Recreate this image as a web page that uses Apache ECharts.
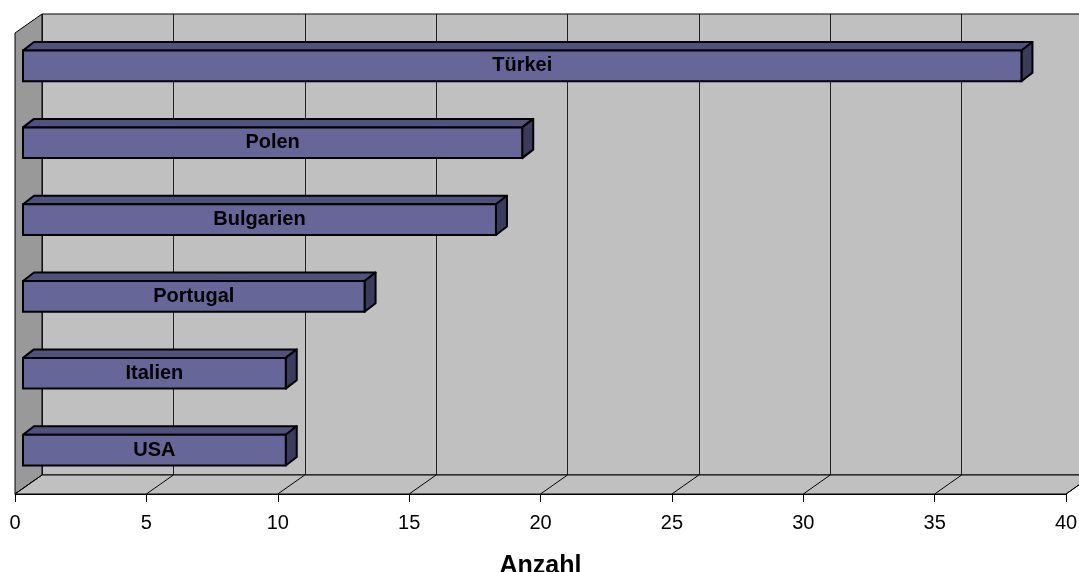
<!DOCTYPE html>
<html>
<head>
<meta charset="utf-8">
<script src="https://cdn.jsdelivr.net/npm/echarts@6/dist/echarts.min.js"></script>
<style>
  html, body { margin:0; padding:0; background:#fff; }
  #plot { width:1079px; height:572px; }
</style>
</head>
<body>
<div id="plot"></div>
<script>
const categories = ['Türkei', 'Polen', 'Bulgarien', 'Portugal', 'Italien', 'USA'];
const values = [38, 19, 18, 13, 10, 10];
const tickValues = [0, 5, 10, 15, 20, 25, 30, 35, 40];
const axisTitle = 'Anzahl';

const font = '"Liberation Sans", Arial, sans-serif';
const depth = [27, -19];      // oblique offset front -> back wall
const barDepth = [11, -8.5];  // bar thickness in depth

const chart = echarts.init(document.getElementById('plot'), null, { renderer:'canvas' });

// walls + floor, drawn on the front plane
function renderWalls(params, api) {
  const fb0 = api.coord([0, 0]), ft0 = api.coord([0, 1]);
  const fb1 = api.coord([tickValues[tickValues.length-1], 0]);
  const add = (p, d) => [p[0] + d[0], p[1] + d[1]];
  const children = [
    { type:'polygon', shape:{ points:[fb0, ft0, add(ft0, depth), add(fb0, depth)] },
      style:{ fill:'#999999', stroke:'#000', lineWidth:1 } },
    { type:'polygon', shape:{ points:[fb0, fb1, add(fb1, depth), add(fb0, depth)] },
      style:{ fill:'#c0c0c0', stroke:'#000', lineWidth:1 } }
  ];
  tickValues.forEach(v => {
    const p = api.coord([v, 0]);
    children.push({ type:'line', shape:{ x1:p[0], y1:p[1], x2:p[0]+depth[0], y2:p[1]+depth[1] },
      style:{ stroke:'#000', lineWidth:1 } });
  });
  return { type:'group', children };
}

function renderBar(params, api) {
  const v = api.value(0), idx = api.value(1);
  const a = api.coord([0, idx]), b = api.coord([v, idx]);
  const h = api.size([0, 1])[1] * 0.40;
  const x0 = a[0], x1 = b[0], y0 = a[1] - h/2, y1 = a[1] + h/2;
  const [dx, dy] = barDepth;
  return {
    type:'group',
    children: [
      { type:'polygon', shape:{ points:[[x0,y0],[x0+dx,y0+dy],[x1+dx,y0+dy],[x1,y0]] },
        style:{ fill:'#51517f', stroke:'#000', lineWidth:2, lineJoin:'round' } },
      { type:'polygon', shape:{ points:[[x1,y0],[x1+dx,y0+dy],[x1+dx,y1+dy],[x1,y1]] },
        style:{ fill:'#3b3b5e', stroke:'#000', lineWidth:2, lineJoin:'round' } },
      { type:'rect', shape:{ x:x0, y:y0, width:x1-x0, height:h },
        style:{ fill:'#666699', stroke:'#000', lineWidth:2 } },
      { type:'text', x:(x0+x1)/2, y:a[1],
        style:{ text:categories[idx], fill:'#000', font:'bold 20px ' + font,
          align:'center', verticalAlign:'middle' } }
    ]
  };
}

const W = 1051, H = 461;

chart.setOption({
  backgroundColor:'#fff',
  animation:false,
  grid: [
    { left:42, top:14, width:W, height:H, show:true, backgroundColor:'#c0c0c0',
      borderColor:'#000', borderWidth:1, outerBoundsMode:'none', containLabel:false },   // back wall
    { left:23, top:27.5, width:W, height:H, outerBoundsMode:'none', containLabel:false }, // bar plane
    { left:15, top:33, width:W, height:H, outerBoundsMode:'none', containLabel:false }    // front plane
  ],
  xAxis: [
    { type:'value', gridIndex:0, min:0, max:40, interval:5,
      axisLine:{ show:false }, axisTick:{ show:false }, axisLabel:{ show:false },
      splitLine:{ show:true, lineStyle:{ color:'#222', width:1 } } },
    { type:'value', gridIndex:1, min:0, max:40, interval:5, show:false },
    { type:'value', gridIndex:2, min:0, max:40, interval:5,
      axisLine:{ show:true, lineStyle:{ color:'#000', width:1 } },
      axisTick:{ show:true, length:8, lineStyle:{ color:'#000' } },
      axisLabel:{ color:'#000', fontSize:20, fontFamily:font, margin:19 },
      splitLine:{ show:false },
      name:axisTitle, nameLocation:'middle', nameGap:60,
      nameTextStyle:{ color:'#000', fontSize:25, fontWeight:'bold', fontFamily:font } }
  ],
  yAxis: [
    { type:'value', gridIndex:0, min:0, max:1, show:false },
    { type:'category', gridIndex:1, data:categories, inverse:true, show:false },
    { type:'value', gridIndex:2, min:0, max:1, show:false }
  ],
  series: [
    { type:'custom', name:'walls', xAxisIndex:2, yAxisIndex:2, data:[[0, 0]],
      renderItem:renderWalls, clip:false, silent:true, z:2 },
    { type:'custom', name:axisTitle, xAxisIndex:1, yAxisIndex:1,
      data: values.map((v, i) => [v, i]),
      renderItem:renderBar, clip:false, z:3 }
  ]
});

window.addEventListener('resize', () => chart.resize(), { passive:true });
</script>
</body>
</html>
